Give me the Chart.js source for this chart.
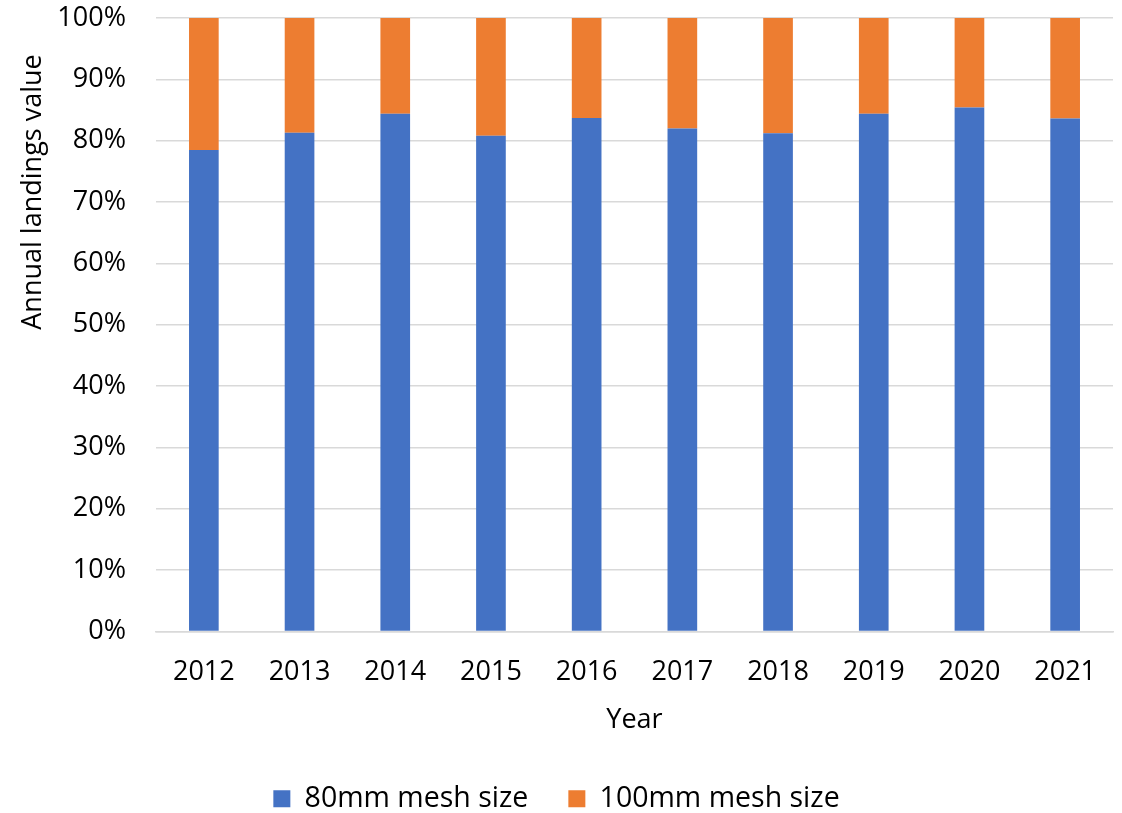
<!DOCTYPE html>
<html>
<head>
<meta charset="utf-8">
<script src="https://cdn.jsdelivr.net/npm/chart.js@4/dist/chart.umd.min.js"></script>
<style>
  html, body { margin: 0; padding: 0; background: #fff; }
  #wrap { width: 1122px; height: 813px; position: relative; }
</style>
</head>
<body>
<div id="wrap"><canvas id="c" width="1122" height="813"></canvas></div>
<script>
// Share of annual landings value by mesh size (percent)
const years = ['2012', '2013', '2014', '2015', '2016', '2017', '2018', '2019', '2020', '2021'];
const mesh80 = [78.5, 81.3, 84.4, 80.8, 83.7, 82.0, 81.2, 84.4, 85.4, 83.6];
const mesh100 = mesh80.map(v => +(100 - v).toFixed(1));
const yTicks = [0, 10, 20, 30, 40, 50, 60, 70, 80, 90, 100];
const yTitle = 'Annual landings value';

const FONT = "'Open Sans', 'Noto Sans', sans-serif";
const SIZE = 27;
const TEXT = '#000000';

// Vertical axis title, drawn in the left margin, reading bottom to top
const yTitlePlugin = {
  id: 'yTitle',
  afterDraw(chart) {
    const ctx = chart.ctx;
    ctx.save();
    ctx.translate(33, 192);
    ctx.rotate(-Math.PI / 2);
    ctx.font = SIZE + 'px ' + FONT;
    ctx.fillStyle = TEXT;
    ctx.textAlign = 'center';
    ctx.textBaseline = 'middle';
    ctx.fillText(yTitle, 0, 0);
    ctx.restore();
  }
};

new Chart(document.getElementById('c'), {
  type: 'bar',
  data: {
    labels: years,
    datasets: [
      { label: '80mm mesh size', data: mesh80, backgroundColor: '#4472C4', borderWidth: 0 },
      { label: '100mm mesh size', data: mesh100, backgroundColor: '#ED7D31', borderWidth: 0 }
    ]
  },
  plugins: [yTitlePlugin],
  options: {
    responsive: false,
    animation: false,
    devicePixelRatio: 1,
    layout: { padding: { left: 0, right: 9, top: 18, bottom: -10 } },
    datasets: { bar: { categoryPercentage: 1, barPercentage: 0.31 } },
    plugins: {
      tooltip: { enabled: false },
      legend: {
        position: 'bottom',
        padding: 4,
        labels: {
          font: { family: FONT, size: 28.5 },
          color: TEXT,
          boxWidth: 17,
          boxHeight: 17,
          padding: 40
        }
      }
    },
    scales: {
      x: {
        stacked: true,
        grid: { display: false, drawTicks: false },
        border: { display: true, color: '#D9D9D9', width: 1.5 },
        ticks: { font: { family: FONT, size: SIZE }, color: TEXT, padding: 25, maxRotation: 0 },
        title: { display: true, text: 'Year', font: { family: FONT, size: SIZE }, color: TEXT, padding: { top: 0, bottom: 8 } },
        afterFit: s => { s.height = 113; s.paddingLeft = 0; s.paddingRight = 0; }
      },
      y: {
        stacked: true,
        min: 0,
        max: 100,
        afterBuildTicks: s => { s.ticks = yTicks.map(v => ({ value: v })); },
        grid: { color: '#D9D9D9', lineWidth: 1.5, drawTicks: false },
        border: { display: false },
        ticks: { font: { family: FONT, size: SIZE }, color: TEXT, padding: 30, callback: v => v + '%' },
        afterFit: s => { s.width = 156; s.paddingTop = 0; s.paddingBottom = 0; }
      }
    }
  }
});
</script>
</body>
</html>
